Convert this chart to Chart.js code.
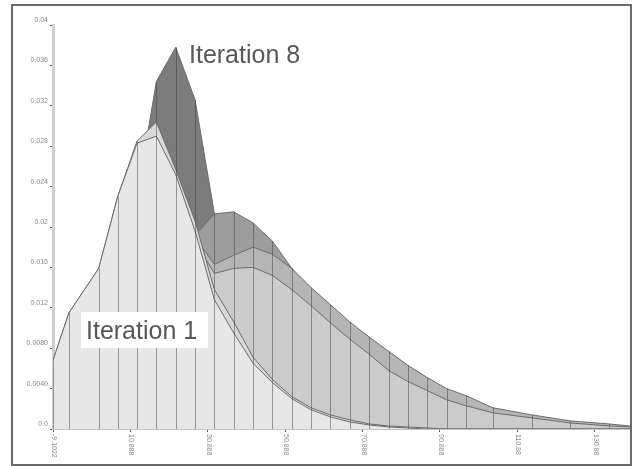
<!DOCTYPE html>
<html>
<head>
<meta charset="utf-8">
<script src="https://cdn.jsdelivr.net/npm/chart.js@4"></script>
<style>
  html, body { margin: 0; padding: 0; background: #fff; }
  #wrap { width: 634px; height: 466px; position: relative; }
</style>
</head>
<body>
<div id="wrap"><canvas id="iterChart"></canvas></div>
<script>
// x positions of the samples
const xValues = [-9.1, -5.0, 2.7, 7.6, 12.6, 17.6, 22.6, 27.6, 32.6, 37.6, 42.6, 47.6, 52.6,
  57.6, 62.6, 67.6, 72.6, 77.6, 82.6, 87.6, 92.6, 97.6, 104.6, 114.6, 124.6, 134.6, 140];

const iter1 = [0.0068, 0.0115, 0.0159, 0.0230, 0.0283, 0.0290, 0.0252, 0.0196, 0.0128, 0.0095, 0.0065, 0.0046, 0.0030,
  0.0019, 0.0012, 0.0007, 0.0004, 0.0002, 0.0001, 0, 0, 0, 0, 0, 0, 0, 0];
const iter2 = [0.0068, 0.0115, 0.0159, 0.0230, 0.0285, 0.0304, 0.0257, 0.0206, 0.0138, 0.0106, 0.0071, 0.0049, 0.0032,
  0.0021, 0.0014, 0.0009, 0.0005, 0.0003, 0.0002, 0.0001, 0, 0, 0, 0, 0, 0, 0];
const iter3 = [0.0060, 0.0105, 0.0145, 0.0205, 0.0245, 0.0250, 0.0225, 0.0185, 0.0154, 0.0159, 0.0160, 0.0152, 0.0138,
  0.0122, 0.0105, 0.0089, 0.0074, 0.0058, 0.0047, 0.0038, 0.0029, 0.0023, 0.0016, 0.0011, 0.0006, 0.0003, 0.0002];
const iter5 = [0.0055, 0.0095, 0.0135, 0.0190, 0.0230, 0.0235, 0.0215, 0.0190, 0.0163, 0.0172, 0.0180, 0.0173, 0.0159,
  0.0140, 0.0123, 0.0106, 0.0091, 0.0077, 0.0063, 0.0051, 0.0040, 0.0033, 0.0021, 0.0014, 0.0008, 0.0005, 0.0003];
const iter7 = [0.0050, 0.0090, 0.0130, 0.0180, 0.0220, 0.0225, 0.0205, 0.0192, 0.0213, 0.0215, 0.0204, 0.0186, 0.0159,
  0.0136, 0.0118, 0.0100, 0.0086, 0.0072, 0.0058, 0.0047, 0.0036, 0.0029, 0.0019, 0.0012, 0.0007, 0.0004, 0.0002];
const iter8 = [0.0045, 0.0085, 0.0125, 0.0175, 0.0230, 0.0344, 0.0378, 0.0326, 0.0213, 0.0195, 0.0180, 0.0160, 0.0140,
  0.0120, 0.0103, 0.0087, 0.0072, 0.0056, 0.0045, 0.0036, 0.0027, 0.0021, 0.0015, 0.0010, 0.0005, 0.0002, 0.0001];

const xTickValues = [-9.112, 10.888, 30.888, 50.888, 70.888, 90.888, 110.888, 130.888];
const xTickLabels = ['-9.1022', '10.888', '30.888', '50.888', '70.888', '90.888', '110.88', '130.88'];
const yTickValues = [0, 0.004, 0.008, 0.012, 0.016, 0.02, 0.024, 0.028, 0.032, 0.036, 0.04];
const yTickLabels = ['0.0', '0.0040', '0.0080', '0.012', '0.016', '0.02', '0.024', '0.028', '0.032', '0.036', '0.04'];

function series(label, values, fillColor) {
  return {
    label: label,
    data: values.map((v, i) => ({ x: xValues[i], y: v })),
    backgroundColor: fillColor,
    borderColor: '#6c6c6c',
    borderWidth: 1,
    pointRadius: 0,
    tension: 0,
    fill: 'origin'
  };
}

// dataset 0 is drawn last (on top)
const datasets = [
  series('Iteration 1', iter1, '#e7e7e7'),
  series('Iteration 2', iter2, '#d8d8d8'),
  series('Iteration 3', iter3, '#cbcbcb'),
  series('Iteration 5', iter5, '#b5b5b5'),
  series('Iteration 7', iter7, '#9d9d9d'),
  series('Iteration 8', iter8, '#7c7c7c')
];

// vertical drop lines at every sample
const dropLines = {
  id: 'dropLines',
  afterDatasetDraw(chart, args) {
    const ctx = chart.ctx;
    const area = chart.chartArea;
    const base = chart.scales.y.getPixelForValue(0);
    ctx.save();
    ctx.beginPath();
    ctx.rect(area.left, area.top, area.right - area.left, area.bottom - area.top);
    ctx.clip();
    ctx.strokeStyle = 'rgba(50,50,50,0.45)';
    ctx.lineWidth = 1;
    args.meta.data.forEach((pt, i) => {
      if (chart.data.datasets[args.index].data[i].y <= 0) return;
      const x = Math.round(pt.x) + 0.5;
      ctx.beginPath();
      ctx.moveTo(x, pt.y);
      ctx.lineTo(x, base);
      ctx.stroke();
    });
    ctx.restore();
  }
};

const extras = {
  id: 'extras',
  afterDraw(chart) {
    const ctx = chart.ctx;
    const xs = chart.scales.x;
    ctx.save();
    // x tick labels, rotated to read downwards
    ctx.fillStyle = '#8a8a8a';
    ctx.font = '7px "Liberation Sans"';
    ctx.textAlign = 'left';
    ctx.textBaseline = 'middle';
    xs.ticks.forEach((t, i) => {
      const px = xs.getPixelForValue(t.value);
      ctx.save();
      ctx.translate(px + 1, xs.top + 5);
      ctx.rotate(Math.PI / 2);
      ctx.fillText(xTickLabels[i], 0, 0);
      ctx.restore();
    });
    // annotations
    ctx.font = '25px "Liberation Sans"';
    ctx.textBaseline = 'alphabetic';
    ctx.fillStyle = '#fff';
    ctx.fillRect(81, 312, 127, 36);
    ctx.fillStyle = '#575757';
    ctx.fillText('Iteration 8', 189, 63);
    ctx.fillText('Iteration 1', 86, 339);
    // outer frame
    ctx.strokeStyle = '#6a6a6a';
    ctx.lineWidth = 2;
    ctx.strokeRect(12, 5, 619, 460);
    ctx.restore();
  }
};

const ctx = document.getElementById('iterChart').getContext('2d');
new Chart(ctx, {
  type: 'line',
  data: { datasets: datasets },
  options: {
    responsive: true,
    maintainAspectRatio: false,
    animation: false,
    layout: { padding: { left: 12, top: 25, right: 4, bottom: 0 } },
    plugins: {
      legend: { display: false },
      tooltip: { enabled: false }
    },
    scales: {
      x: {
        type: 'linear',
        min: -9.112,
        max: 140,
        afterBuildTicks: (scale) => { scale.ticks = xTickValues.map(v => ({ value: v })); },
        afterFit: (scale) => { scale.height = 37; },
        ticks: { display: false },
        grid: { display: true, drawOnChartArea: false, drawTicks: true, tickLength: 3, tickColor: '#555' },
        border: { display: true, color: '#c4c4c4', width: 2 }
      },
      y: {
        min: 0,
        max: 0.04,
        afterBuildTicks: (scale) => { scale.ticks = yTickValues.map(v => ({ value: v })); },
        afterFit: (scale) => { scale.width = 41; },
        ticks: {
          color: '#8a8a8a',
          font: { family: 'Liberation Sans', size: 7 },
          padding: 2,
          labelOffset: -5,
          callback: (value, index) => yTickLabels[index]
        },
        grid: { display: true, drawOnChartArea: false, drawTicks: true, tickLength: 3, tickColor: '#555' },
        border: { display: true, color: '#cfcfcf', width: 3 }
      }
    }
  },
  plugins: [dropLines, extras]
});
</script>
</body>
</html>
